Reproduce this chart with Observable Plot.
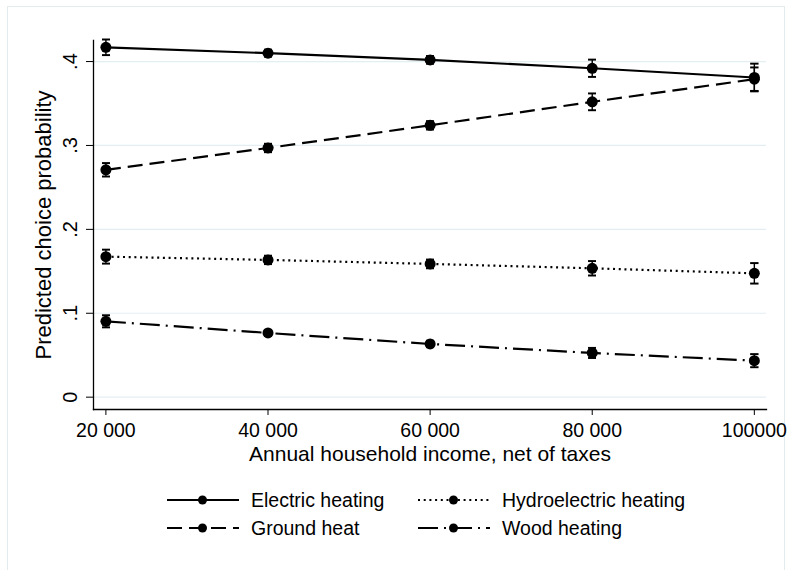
<!DOCTYPE html>
<html>
<head>
<meta charset="utf-8">
<script src="https://cdn.jsdelivr.net/npm/d3@7"></script>
<script src="https://cdn.jsdelivr.net/npm/@observablehq/plot@0.6"></script>
<style>
  body { margin: 0; background: #fff; font-family: Arial, "Liberation Sans", sans-serif; }
  #wrap { position: relative; width: 788px; height: 570px; overflow: hidden; background: #fff; }
  #frame { position: absolute; left: 7px; top: 6px; width: 778px; height: 580px; border: 1px solid #e3ebee; box-sizing: border-box; }
  #chart { position: absolute; left: 0; top: 0; }
  .leg-item { position: absolute; height: 20px; display: flex; align-items: center; font-size: 19.5px; color: #000; white-space: nowrap; }
  .leg-item svg { display: block; margin-right: 12px; }
</style>
</head>
<body>
<div id="wrap">
  <div id="frame"></div>
  <div id="chart"></div>
  <div id="legend"></div>
</div>
<script>
// Household income levels (x) and their printed tick labels
const incomes = [20000, 40000, 60000, 80000, 100000];
const incomeLabels = ["20 000", "40 000", "60 000", "80 000", "100000"];

// Probability ticks and labels
const probTicks = [0, 0.1, 0.2, 0.3, 0.4];
const probLabels = ["0", ".1", ".2", ".3", ".4"];

// Heating alternatives
const seriesNames = ["Electric heating", "Hydroelectric heating", "Ground heat", "Wood heating"];

// Predicted probabilities and half-widths of the confidence intervals
const electric = [0.417, 0.410, 0.402, 0.392, 0.381];
const electricErr = [0.0093, 0.0042, 0.0046, 0.0103, 0.0165];
const hydro = [0.1675, 0.1636, 0.1588, 0.1536, 0.1476];
const hydroErr = [0.0083, 0.0050, 0.0052, 0.0086, 0.0122];
const ground = [0.271, 0.297, 0.324, 0.352, 0.379];
const groundErr = [0.0080, 0.0050, 0.0050, 0.0100, 0.0140];
const wood = [0.0904, 0.0765, 0.0634, 0.0527, 0.0435];
const woodErr = [0.0072, 0.0036, 0.0038, 0.0060, 0.0078];

const xTitle = "Annual household income, net of taxes";
const yTitle = "Predicted choice probability";

// Line pattern per alternative
const dashes = {
  "Electric heating": null,
  "Hydroelectric heating": "2,3.7",
  "Ground heat": "15,7",
  "Wood heating": "20,6,2,6"
};

const valuesBySeries = {
  "Electric heating": [electric, electricErr],
  "Hydroelectric heating": [hydro, hydroErr],
  "Ground heat": [ground, groundErr],
  "Wood heating": [wood, woodErr]
};

const rows = seriesNames.flatMap(name => {
  const [vals, errs] = valuesBySeries[name];
  return incomes.map((inc, i) => ({
    series: name, income: inc, p: vals[i], lo: vals[i] - errs[i], hi: vals[i] + errs[i]
  }));
});

const font = "Arial, 'Liberation Sans', sans-serif";

const lineMarks = seriesNames.map(name =>
  Plot.line(rows.filter(d => d.series === name), {
    x: "income", y: "p", stroke: "black", strokeWidth: 2.2,
    strokeDasharray: dashes[name], strokeLinecap: "butt"
  })
);

const chart = Plot.plot({
  width: 788,
  height: 475,
  marginLeft: 93,
  marginRight: 22,
  marginTop: 40,
  marginBottom: 66,
  style: { fontFamily: font, background: "transparent", color: "black" },
  x: { domain: [18470, 101500] },
  y: { domain: [-0.0147, 0.4251] },
  marks: [
    Plot.gridY(probTicks, { stroke: "#e4edf0", strokeOpacity: 1, strokeWidth: 1.2 }),
    Plot.frame({ anchor: "left", stroke: "black", strokeWidth: 1.3 }),
    Plot.frame({ anchor: "bottom", stroke: "black", strokeWidth: 1.3 }),
    Plot.axisX({
      ticks: incomes, tickSize: 6, tickPadding: 8, fontSize: 19.5,
      tickFormat: d => incomeLabels[incomes.indexOf(d)], label: null
    }),
    Plot.axisY({ ticks: probTicks, tickSize: 7, tickFormat: () => "", label: null }),
    Plot.text(probTicks, {
      y: d => d, text: d => probLabels[probTicks.indexOf(d)],
      frameAnchor: "left", textAnchor: "middle", dx: -23, rotate: -90, fontSize: 20, fill: "black"
    }),
    Plot.text([yTitle], {
      frameAnchor: "left", textAnchor: "middle", dx: -50, rotate: -90, fontSize: 22, fill: "black"
    }),
    Plot.text([xTitle], { frameAnchor: "bottom", dy: 51, fontSize: 21, fill: "black" }),
    ...lineMarks,
    Plot.link(rows, {
      x1: "income", x2: "income", y1: "lo", y2: "hi",
      stroke: "black", strokeWidth: 1.4, markerStart: "tick", markerEnd: "tick"
    }),
    Plot.dot(rows, { x: "income", y: "p", r: 5.5, fill: "black", stroke: "none" })
  ]
});
document.getElementById("chart").append(chart);

// Legend: two rows, two columns
const legendPos = {
  "Electric heating": [167, 490],
  "Hydroelectric heating": [418, 490],
  "Ground heat": [167, 518],
  "Wood heating": [418, 518]
};
const legend = d3.select("#legend");
for (const name of seriesNames) {
  const [lx, ly] = legendPos[name];
  const item = legend.append("div").attr("class", "leg-item")
    .style("left", lx + "px").style("top", ly + "px");
  const svg = item.append("svg").attr("width", 72).attr("height", 16);
  svg.append("line")
    .attr("x1", 0).attr("x2", 72).attr("y1", 8).attr("y2", 8)
    .attr("stroke", "black").attr("stroke-width", 2.2)
    .attr("stroke-dasharray", dashes[name]);
  svg.append("circle").attr("cx", 35.5).attr("cy", 8).attr("r", 4.5).attr("fill", "black");
  item.append("span").text(name);
}
</script>
</body>
</html>
